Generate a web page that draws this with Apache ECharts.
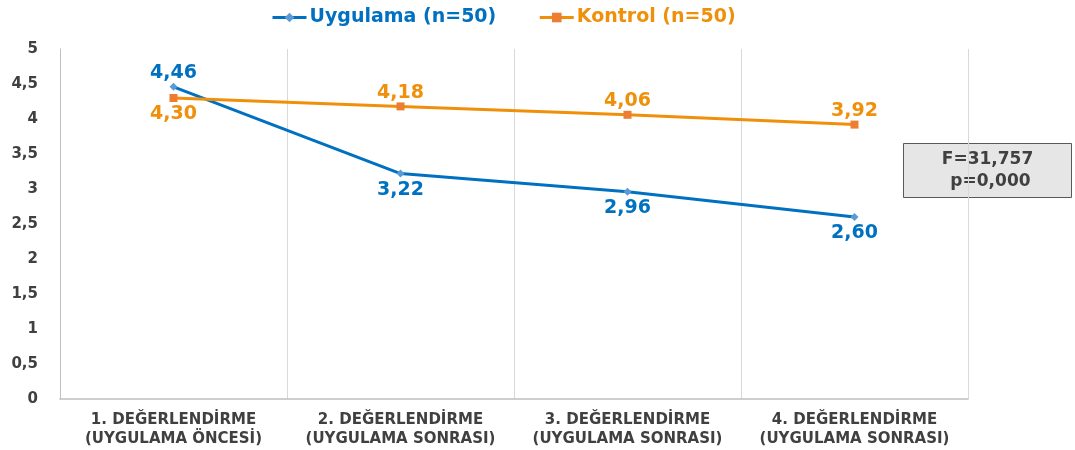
<!DOCTYPE html>
<html><head><meta charset="utf-8">
<script src="https://cdn.jsdelivr.net/npm/echarts@6/dist/echarts.min.js"></script>
<style>html,body{margin:0;padding:0;background:#fff}#c{width:1075px;height:450px}</style>
</head><body><div id="c"></div>
<script>
const categories = ['1. DEĞERLENDİRME\n(UYGULAMA ÖNCESİ)','2. DEĞERLENDİRME\n(UYGULAMA SONRASI)','3. DEĞERLENDİRME\n(UYGULAMA SONRASI)','4. DEĞERLENDİRME\n(UYGULAMA SONRASI)'];
const uygulama = [4.46, 3.22, 2.96, 2.60];
const kontrol = [4.30, 4.18, 4.06, 3.92];
const uygulamaLabelPos = ['top','bottom','bottom','bottom'];
const kontrolLabelPos = ['bottom','top','top','top'];
const statText = 'F=31,757\n p=0,000';

const fmt = v => v.toFixed(2).replace('.', ',');
const FONT = 'DejaVu Sans';
const BLUE = '#0070C0', ORANGE = '#F0900A';
const lbl = pos => ({position:pos, distance: pos === 'top' ? 0 : 3});
const chart = echarts.init(document.getElementById('c'));
chart.setOption({
  animation:false,
  textStyle:{fontFamily:FONT},
  legend:{
    top:3, left:266, itemWidth:34, itemHeight:12, itemGap:42,
    lineStyle:{width:3},
    data:[
      {name:'Uygulama (n=50)', textStyle:{color:BLUE}},
      {name:'Kontrol (n=50)', textStyle:{color:ORANGE}}
    ],
    textStyle:{fontSize:19, fontWeight:'bold', fontFamily:FONT, padding:[0,0,0,-2]}
  },
  grid:{left:60, right:107, top:49, bottom:51},
  xAxis:{
    type:'category', data:categories, boundaryGap:true,
    axisLine:{lineStyle:{color:'#bfbfbf', width:1.5}},
    axisTick:{show:false},
    splitLine:{show:true, lineStyle:{color:'#d9d9d9'}},
    axisLabel:{interval:0, color:'#404040', fontSize:15, fontWeight:'bold', lineHeight:19, margin:12, fontFamily:FONT}
  },
  yAxis:{
    type:'value', min:0, max:5, interval:0.5,
    axisLine:{show:true, lineStyle:{color:'#bfbfbf'}},
    axisTick:{show:false},
    splitLine:{show:false},
    axisLabel:{color:'#404040', fontSize:15, fontWeight:'bold', margin:22, fontFamily:FONT,
      formatter:v=>String(v).replace('.', ',')}
  },
  series:[
    {name:'Uygulama (n=50)', type:'line', data:uygulama.map((v,i)=>({value:v, label:lbl(uygulamaLabelPos[i])})),
     color:BLUE, symbol:'diamond', symbolSize:8,
     lineStyle:{color:BLUE, width:3}, itemStyle:{color:'#5B9BD5'},
     label:{show:true, fontSize:19, fontWeight:'bold', color:BLUE, fontFamily:FONT, formatter:p=>fmt(p.value)}},
    {name:'Kontrol (n=50)', type:'line', data:kontrol.map((v,i)=>({value:v, label:lbl(kontrolLabelPos[i])})),
     color:ORANGE, symbol:'rect', symbolSize:8,
     lineStyle:{color:ORANGE, width:3}, itemStyle:{color:'#ED7D31'},
     label:{show:true, fontSize:19, fontWeight:'bold', color:ORANGE, fontFamily:FONT, formatter:p=>fmt(p.value)}}
  ],
  graphic:[{
    type:'group', left:903, top:143,
    children:[
      {type:'rect', shape:{x:0,y:0,width:168,height:54}, style:{fill:'#e7e6e6', stroke:'#595959', lineWidth:1}},
      {type:'text', x:84, y:27, style:{text:statText, align:'center', verticalAlign:'middle', fontSize:17, fontWeight:'bold', fill:'#404040', fontFamily:FONT, lineHeight:22}}
    ]
  }]
});
</script></body></html>
